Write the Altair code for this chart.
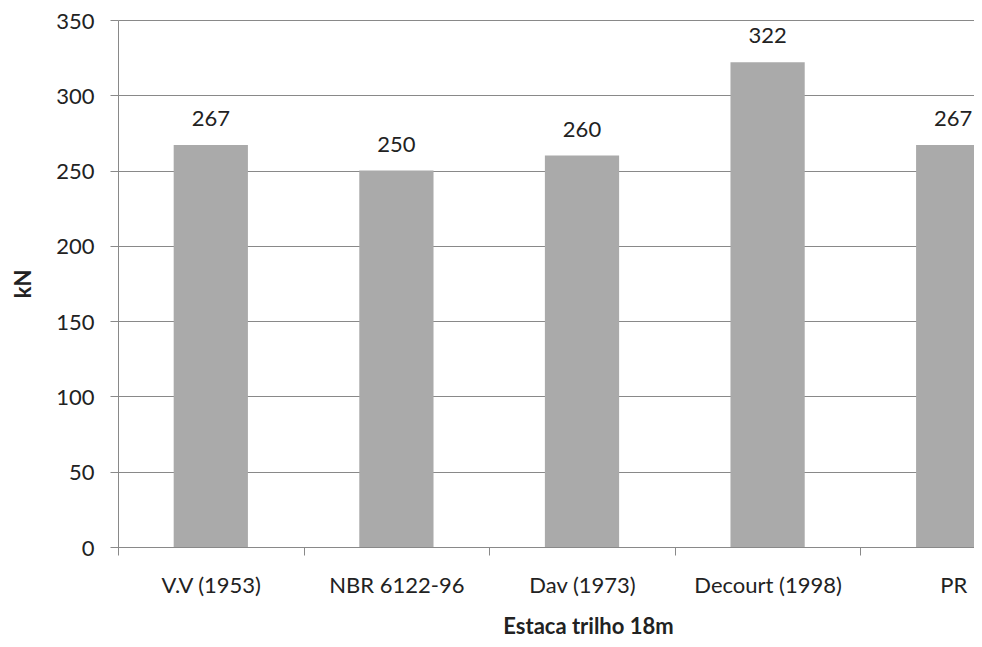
import altair as alt
import pandas as pd

categories = ["V.V (1953)", "NBR 6122-96", "Dav (1973)", "Decourt (1998)", "PR"]
values = [267, 250, 260, 322, 267]
y_ticks = [0, 50, 100, 150, 200, 250, 300, 350]

df = pd.DataFrame({"cat": categories, "val": values})

FONT = "Lato"
FS = 22
GRID = "#898989"
TXT = "#222222"
RANGE = 928.0
STEP = RANGE / 5
HALF_GAP = 0.6 * STEP / 2

x_enc = alt.X(
    "cat:N",
    sort=None,
    scale=alt.Scale(domain=categories, range=[0, RANGE], paddingInner=0.6, paddingOuter=0.3),
    axis=alt.Axis(
        title="Estaca trilho 18m",
        titleFont=FONT, titleFontSize=FS, titleFontWeight="bold", titleColor=TXT,
        titleX=470, titleAlign="center", titlePadding=20,
        labelFont=FONT, labelFontSize=FS, labelColor=TXT, labelAngle=0,
        labelPadding=20, labelOffset=HALF_GAP,
        bandPosition=0, tickOffset=-HALF_GAP, tickSize=8, tickColor=GRID,
        domainColor=GRID, grid=False, labelOverlap=False,
    ),
)

y_enc = alt.Y(
    "val:Q",
    scale=alt.Scale(domain=[0, 350], nice=False),
    axis=alt.Axis(
        title="kN", values=y_ticks,
        titleFont=FONT, titleFontSize=FS, titleFontWeight="bold", titleColor=TXT,
        titlePadding=20,
        labelFont=FONT, labelFontSize=FS, labelColor=TXT, labelPadding=16,
        labelBaseline="alphabetic", labelOffset=8,
        tickSize=8, tickColor=GRID, domainColor=GRID,
        grid=True, gridColor=GRID, gridWidth=1,
    ),
)

bars = alt.Chart(df).mark_bar(color="#AAAAAA").encode(x=x_enc, y=y_enc)
labels = alt.Chart(df).mark_text(
    font=FONT, fontSize=FS, color=TXT, baseline="alphabetic", dy=-19
).encode(x=alt.X("cat:N", sort=None), y="val:Q", text="val:Q")

chart = (
    alt.layer(bars, labels)
    .properties(
        width=856, height=527,
        autosize=alt.AutoSizeParams(type="none"),
        padding={"left": 110, "top": 12, "right": 0, "bottom": 90},
    )
    .configure_view(stroke=None)
)

chart.save("out.html", embed_options={"renderer": "svg", "actions": False})
